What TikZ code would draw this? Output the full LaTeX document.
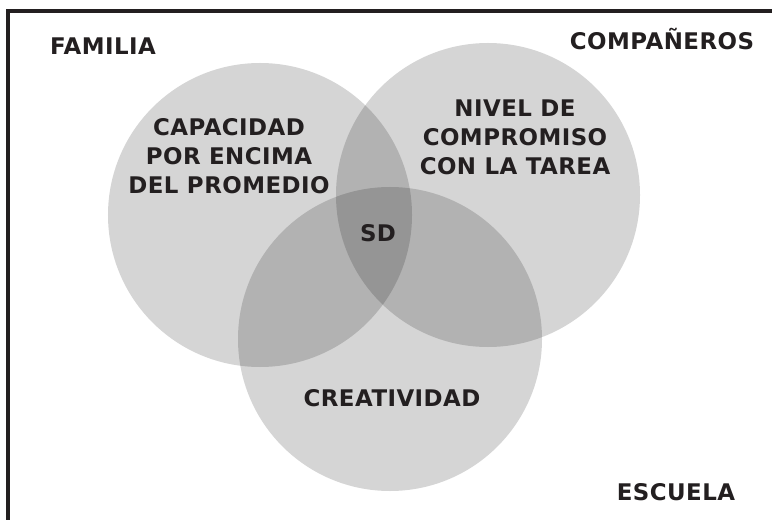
\documentclass[tikz,border=0pt]{standalone}
\usepackage{fontspec}
\setmainfont{DejaVu Sans}[LetterSpace=2]
\definecolor{ink}{HTML}{231F20}

\begin{document}
\begin{tikzpicture}[x=1bp,y=-1bp]
\tikzstyle{zone}=[circle, fill=black, fill opacity=0.165, minimum size=304bp, inner sep=0pt]
\tikzstyle{word}=[font=\bfseries\fontsize{23}{29.5}\selectfont, text=ink, align=center, anchor=base]

\useasboundingbox (0,0) rectangle (772,520);

% the three circles
\node[zone] (fam) at (260,215) {};
\node[zone] (com) at (488,195) {};
\node[zone] (esc) at (390,339) {};

\draw[ink, line width=4bp] (8,520) -- (8,11.5) -- (772,11.5);

\node[word] (familia) at (103,55) {FAMILIA};
\node[word] (companeros) at (662,50) {COMPAÑEROS};
\node[word] (escuela) at (676,500) {ESCUELA};

% base of a multi-line node = last line
\node[word] (capacidad) at (229,194) {CAPACIDAD\\POR ENCIMA\\DEL PROMEDIO};
\node[word] (nivel) at (515,175) {NIVEL DE\\COMPROMISO\\CON LA TAREA};
\node[word] (sd) at (378,242) {SD};
\node[word] (creatividad) at (392,406) {CREATIVIDAD};
\end{tikzpicture}
\end{document}
